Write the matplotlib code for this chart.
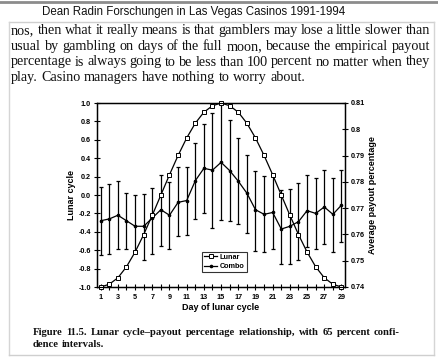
import matplotlib
matplotlib.use("Agg")
import matplotlib.pyplot as plt
from matplotlib import font_manager
from matplotlib.lines import Line2D

# day of lunar cycle
days = list(range(1, 30))

# lunar phase (left axis units)
lunar = [-1.0, -0.97, -0.90, -0.78, -0.62, -0.43, -0.22, 0.0, 0.22, 0.43,
         0.62, 0.78, 0.90, 0.97, 1.0, 0.97, 0.90, 0.78, 0.62, 0.43,
         0.22, 0.0, -0.22, -0.43, -0.62, -0.78, -0.90, -0.97, -1.0]

# combo payout (scaled to left axis), with 65% interval ends
combo = [-0.28, -0.26, -0.22, -0.28, -0.34, -0.34, -0.25, -0.16, -0.22, -0.08,
         -0.06, 0.155, 0.29, 0.27, 0.355, 0.265, 0.15, 0.02, -0.16, -0.21,
         -0.19, -0.37, -0.34, -0.29, -0.17, -0.20, -0.13, -0.21, -0.11]
combo_hi = [0.09, 0.12, 0.15, 0.02, 0.00, 0.01, 0.08, 0.22, 0.14, 0.30,
            0.30, 0.57, 0.77, 0.89, 0.99, 0.81, 0.62, 0.44, 0.265, 0.21,
            0.22, 0.05, 0.06, 0.13, 0.22, 0.18, 0.27, 0.19, 0.27]
combo_lo = [-0.65, -0.64, -0.59, -0.59, -0.61, -0.71, -0.64, -0.55, -0.59, -0.45,
            -0.43, -0.26, -0.20, -0.36, -0.275, -0.28, -0.32, -0.41, -0.61, -0.62,
            -0.59, -0.75, -0.75, -0.71, -0.57, -0.59, -0.53, -0.62, -0.51]

left_ticks = [1.0, 0.8, 0.6, 0.4, 0.2, 0.0, -0.2, -0.4, -0.6, -0.8, -1.0]
left_labels = ["1.0", "0.8", "0.6", "0.4", "0.2", "0.0", "-0.2", "-0.4", "-0.6", "-0.8", "-1.0"]
right_ticks = [0.74, 0.75, 0.76, 0.77, 0.78, 0.79, 0.80, 0.81]
right_labels = ["0.74", "0.75", "0.76", "0.77", "0.78", "0.79", "0.8", "0.81"]

header = "Dean Radin Forschungen in Las Vegas Casinos 1991-1994"
body = ["nos, then what it really means is that gamblers may lose a little slower than",
        "usual by gambling on days of the full moon, because the empirical payout",
        "percentage is always going to be less than 100 percent no matter when they",
        "play. Casino managers have nothing to worry about."]
caption = ["Figure 11.5. Lunar cycle\u2013payout percentage relationship, with 65 percent confi-",
           "dence intervals."]

W, H = 439, 358
names = {f.name for f in font_manager.fontManager.ttflist}
narrow = "Liberation Sans Narrow" if "Liberation Sans Narrow" in names else "Liberation Sans"
small = 6.0 if narrow == "Liberation Sans Narrow" else 5.2

fig = plt.figure(figsize=(W / 100, H / 100), dpi=100)
fig.patch.set_facecolor("white")


def fx(x):
    return x / W


def fy(y):
    return 1 - y / H


# page frame
for xs, ys, c, lw in [((0, W), (1.5, 1.5), "#8c8c8c", 2.0),
                      ((9, 434), (22, 22), "#cfcfcf", 1.0),
                      ((9, 9), (22, 355), "#d5d5d5", 1.0),
                      ((434, 434), (22, 355), "#d5d5d5", 1.0),
                      ((9, 434), (355, 355), "#cfcfcf", 1.0)]:
    fig.add_artist(Line2D([fx(x) for x in xs], [fy(y) for y in ys], color=c, lw=lw))

fig.text(fx(194), fy(15.5), header, family="Liberation Sans", fontsize=8.3,
         ha="center", va="baseline", color="#111111")

renderer = fig.canvas.get_renderer()


def width_of(s, **kw):
    t = fig.text(0, 0, s, **kw)
    w = t.get_window_extent(renderer).width
    t.remove()
    return w


def justify(line, x0, x1, y, last=False, **kw):
    words = line.split(" ")
    texts = [fig.text(0, fy(y), w, va="baseline", **kw) for w in words]
    widths = [t.get_window_extent(renderer).width for t in texts]
    sw = width_of("a a", **kw) - width_of("aa", **kw)
    gap = sw if last else (x1 - x0 - sum(widths)) / (len(words) - 1)
    x = x0
    for t, w in zip(texts, widths):
        t.set_x(fx(x))
        x += w + gap


body_kw = dict(family="Liberation Serif", fontsize=10.2, color="#111111")
for i, line in enumerate(body):
    justify(line, 11, 430, 34.3 + i * 15.6, last=(i == len(body) - 1), **body_kw)

# caption: size so the first line fits its measure with a little slack
cap_kw = dict(family="Liberation Serif", color="#111111", weight="bold")
natural = width_of(caption[0], fontsize=10, **cap_kw)
cap_kw["fontsize"] = 10 * 0.985 * (400 - 33) / natural
justify(caption[0], 33, 400, 335, **cap_kw)
justify(caption[1], 33, 400, 347, last=True, **cap_kw)

# chart
ax = fig.add_axes([fx(97), fy(287), (345 - 97) / W, (287 - 103) / H])
ax.errorbar(days, combo, yerr=[[c - l for c, l in zip(combo, combo_lo)],
                               [h - c for c, h in zip(combo, combo_hi)]],
            fmt="none", ecolor="black", elinewidth=0.9, capsize=1.6, capthick=0.9,
            clip_on=False)
ax.plot(days, lunar, color="black", lw=0.9, marker="s", ms=3.4, mfc="white",
        mec="black", mew=0.7, label="Lunar", clip_on=False, zorder=4)
ax.plot(days, combo, color="black", lw=0.9, marker="o", ms=1.6, label="Combo",
        clip_on=False, zorder=3)

ax.set_xlim(0.57, 29.41)
ax.set_ylim(-1, 1)
ax.set_xticks(range(1, 30, 2))
ax.set_xticks(range(1, 30), minor=True)
ax.set_yticks(left_ticks)
ax.set_yticklabels(left_labels)
for s in ax.spines.values():
    s.set_linewidth(1.0)
ax.tick_params(which="both", direction="inout", length=4, width=0.8, pad=3,
               labelsize=small)
ax.tick_params(axis="y", length=5, pad=2)
for lab in ax.get_xticklabels() + ax.get_yticklabels():
    lab.set_family(narrow)
    lab.set_weight("bold")

ax2 = ax.twinx()
ax2.set_ylim(0.74, 0.81)
ax2.set_yticks(right_ticks)
ax2.set_yticklabels(right_labels)
ax2.tick_params(direction="inout", length=5, width=0.8, pad=2, labelsize=small)
for lab in ax2.get_yticklabels():
    lab.set_family(narrow)
    lab.set_weight("bold")

lab_kw = dict(family=narrow, weight="bold", fontsize=small + 1.3, color="black")
fig.text(fx(71), fy(195), "Lunar cycle", rotation=90, ha="center", va="center", **lab_kw)
fig.text(fx(373), fy(195), "Average payout percentage", rotation=90, ha="center",
         va="center", **lab_kw)
fig.text(fx(221), fy(308), "Day of lunar cycle", ha="center", va="center", **lab_kw)

leg = ax.legend(loc="lower left", bbox_to_anchor=(0.41, 0.06), frameon=True,
                fancybox=False, edgecolor="black", handlelength=1.8,
                borderpad=0.3, labelspacing=0.3, handletextpad=0.3,
                prop=dict(family=narrow, weight="bold", size=small))
leg.get_frame().set_linewidth(0.8)

fig.savefig("out.png", dpi=100)
